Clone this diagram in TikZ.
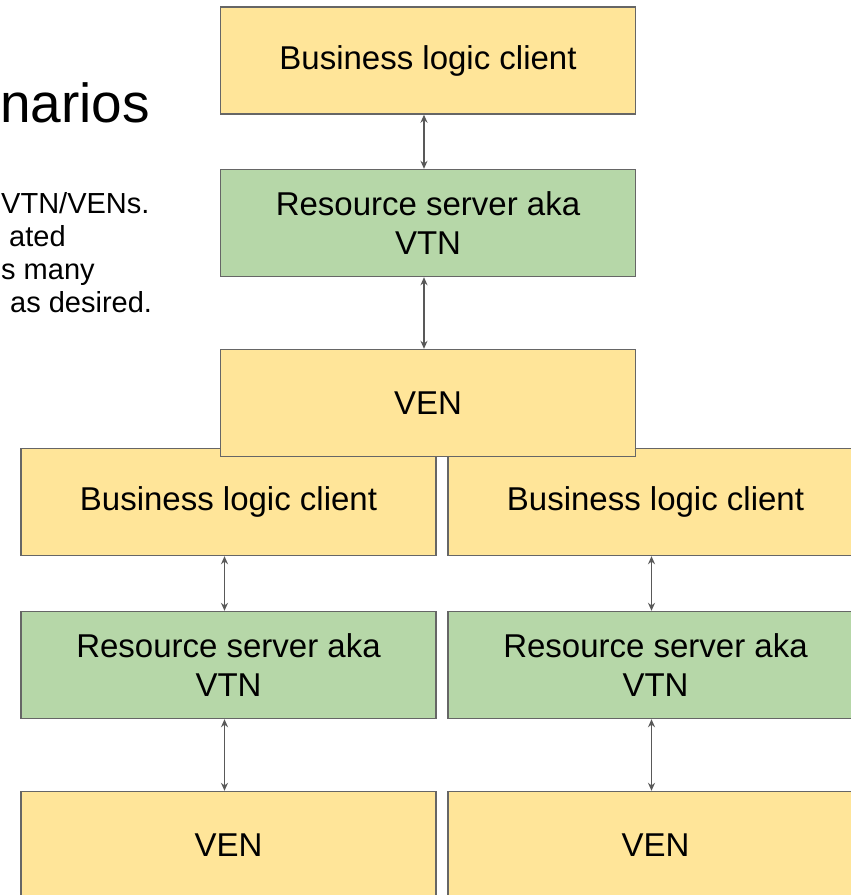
\documentclass[tikz,border=0pt]{standalone}
\usepackage{fontspec}
\setmainfont{Liberation Sans}
\usetikzlibrary{arrows.meta}

\definecolor{boxyellow}{HTML}{FFE599}
\definecolor{boxgreen}{HTML}{B6D7A8}
\definecolor{edgegray}{HTML}{666666}
\definecolor{arrowgray}{HTML}{595959}

\tikzset{
  client/.style={draw=edgegray, line width=1.4pt, fill=boxyellow,
    minimum width=415pt, minimum height=107pt, inner sep=0pt,
    align=center, font=\fontsize{33}{39}\selectfont},
  server/.style={client, fill=boxgreen},
  link/.style={draw=arrowgray, line width=1.5pt,
    {Stealth[length=8pt,width=7pt]}-{Stealth[length=8pt,width=7pt]}},
  note/.style={anchor=base west, inner sep=0pt, font=\fontsize{29}{34}\selectfont}
}

\begin{document}
\begin{tikzpicture}[x=1pt,y=-1pt]
    \clip (0,0) rectangle (851,895);
    % title and notes, cut at the left edge
    \node[anchor=base west, inner sep=0pt, font=\fontsize{55}{62}\selectfont] (title) at (0,122) {narios};
    \node[note] (noteA) at (1,213) {VTN/VENs.};
    \node[note] (noteB) at (9,246) {ated};
    \node[note] (noteC) at (1,279) {s many};
    \node[note] (noteD) at (10,312) {as desired.};
    % second tier first, so that the upper VEN lies over it
    \node[client] (blcL) at (228.5,502) {Business logic client};
    \node[client] (blcR) at (655.5,502) {Business logic client};
    \node[server] (rsL) at (228.5,665) {Resource server aka\\VTN};
    \node[server] (rsR) at (655.5,665) {Resource server aka\\VTN};
    \node[client] (venL) at (228.5,845) {VEN};
    \node[client] (venR) at (655.5,845) {VEN};
    % upper chain
    \node[client] (blcT) at (428,60.5) {Business logic client};
    \node[server] (rsT) at (428,223) {Resource server aka\\VTN};
    \node[client] (venT) at (428,403) {VEN};
    % links
    \draw[link] ([xshift=-4pt]blcT.south) -- ([xshift=-4pt]rsT.north);
    \draw[link] ([xshift=-4pt]rsT.south) -- ([xshift=-4pt]venT.north);
    \draw[link] ([xshift=-4pt]blcL.south) -- ([xshift=-4pt]rsL.north);
    \draw[link] ([xshift=-4pt]rsL.south) -- ([xshift=-4pt]venL.north);
    \draw[link] ([xshift=-4pt]blcR.south) -- ([xshift=-4pt]rsR.north);
    \draw[link] ([xshift=-4pt]rsR.south) -- ([xshift=-4pt]venR.north);
\end{tikzpicture}
\end{document}
